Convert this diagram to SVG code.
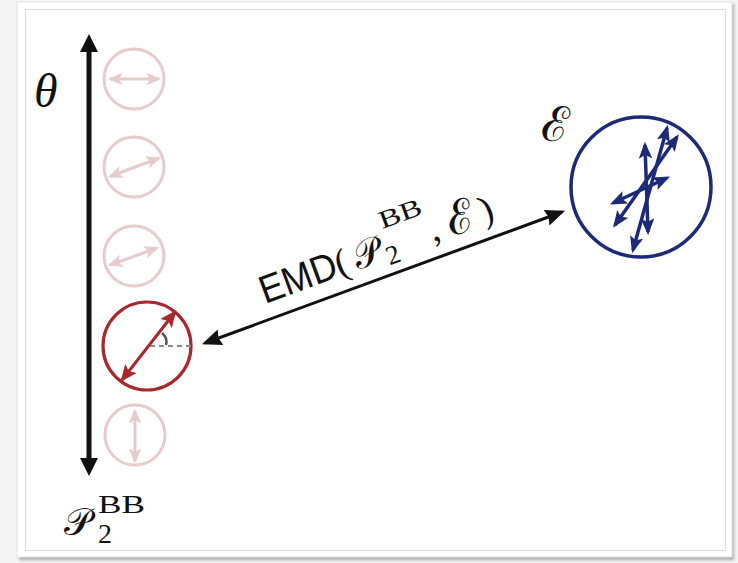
<svg xmlns="http://www.w3.org/2000/svg" width="738" height="563" viewBox="0 0 738 563">
  <defs>
    <filter id="shadow" x="-5%" y="-5%" width="110%" height="110%">
      <feGaussianBlur stdDeviation="1.5"/>
    </filter>
    <marker id="hBlack" markerUnits="userSpaceOnUse" markerWidth="22" markerHeight="20" refX="15" refY="8" orient="auto-start-reverse" viewBox="0 0 20 16">
      <path d="M0,0.5 L18,8 L0,15.5 L2,8 Z" fill="#111"/>
    </marker>
    <marker id="hRed" markerUnits="userSpaceOnUse" markerWidth="18" markerHeight="16" refX="13" refY="7" orient="auto-start-reverse" viewBox="0 0 16 14">
      <path d="M0,0.5 L15,7 L0,13.5 L3,7 Z" fill="#a8282c"/>
    </marker>
    <marker id="hFade" markerUnits="userSpaceOnUse" markerWidth="16" markerHeight="14" refX="11" refY="6" orient="auto-start-reverse" viewBox="0 0 14 12">
      <path d="M0,0.5 L13,6 L0,11.5 L3,6 Z" fill="#e6cccc"/>
    </marker>
    <marker id="hBlue" markerUnits="userSpaceOnUse" markerWidth="18" markerHeight="16" refX="12" refY="6.5" orient="auto-start-reverse" viewBox="0 0 16 13">
      <path d="M0,0.5 L15,6.5 L0,12.5 L3,6.5 Z" fill="#1c2a78"/>
    </marker>
  </defs>
  <style>
    .fade { fill: none; stroke: #e6cccc; stroke-width: 3; }
    .fadeA { stroke: #e6cccc; stroke-width: 3; marker-start: url(#hFade); marker-end: url(#hFade); }
    .blueA { stroke: #1c2a78; stroke-width: 3.5; marker-start: url(#hBlue); marker-end: url(#hBlue); }
    .math { font-family: "DejaVu Serif", "Liberation Serif", serif; fill: #111; }
    .rm { font-family: "Liberation Serif", "DejaVu Serif", serif; fill: #111; }
  </style>

  <!-- frame -->
  <rect x="0" y="0" width="738" height="563" fill="#f4f4f4"/>
  <rect x="19" y="4" width="715" height="556" fill="#a9a9a9" filter="url(#shadow)"/>
  <rect x="17" y="2" width="715" height="555" fill="#ffffff" stroke="#e4e4e4" stroke-width="1"/>
  <rect x="25.5" y="9.5" width="700" height="541" fill="none" stroke="#dddddd" stroke-width="1.2"/>

  <!-- theta axis -->
  <g id="axis">
    <line x1="89" y1="48" x2="89" y2="462" stroke="#111" stroke-width="5"/>
    <path d="M80,52 L89,34 L98,52 Z" fill="#111"/>
    <path d="M80,458 L89,476 L98,458 Z" fill="#111"/>
    <text x="34" y="107" class="rm" font-size="48" font-style="italic">θ</text>
  </g>

  <!-- faded polarization states -->
  <g id="state1">
    <circle cx="134" cy="79" r="30" class="fade"/>
    <line x1="110" y1="79" x2="159" y2="79" class="fadeA"/>
  </g>
  <g id="state2">
    <circle cx="134" cy="167" r="30" class="fade"/>
    <line x1="110" y1="176.5" x2="159" y2="158" class="fadeA"/>
  </g>
  <g id="state3">
    <circle cx="134" cy="256" r="30" class="fade"/>
    <line x1="110" y1="265" x2="157" y2="248" class="fadeA"/>
  </g>
  <g id="state5">
    <circle cx="135" cy="435" r="30" class="fade"/>
    <line x1="135" y1="411" x2="135" y2="461" class="fadeA"/>
  </g>

  <!-- selected state -->
  <g id="selected">
    <circle cx="147" cy="346" r="44" fill="none" stroke="#a8282c" stroke-width="3.2"/>
    <line x1="150" y1="346" x2="193" y2="346" stroke="#8a8a8a" stroke-width="2" stroke-dasharray="5,4"/>
    <path d="M162,333 Q168,338 166,345" fill="none" stroke="#555" stroke-width="2.5"/>
    <line x1="122" y1="380" x2="175" y2="312" stroke="#a8282c" stroke-width="3" marker-start="url(#hRed)" marker-end="url(#hRed)"/>
  </g>

  <!-- bottom label -->
  <g id="label-p">
    <text x="64" y="535" class="math" font-size="38">𝒫</text>
    <text x="98" y="513" class="rm" font-size="25" textLength="47" lengthAdjust="spacingAndGlyphs">BB</text>
    <text x="98" y="543" class="rm" font-size="28">2</text>
  </g>

  <!-- target ensemble -->
  <g id="ensemble">
    <circle cx="641" cy="187" r="70" fill="none" stroke="#1c2a78" stroke-width="3.5"/>
    <line x1="645" y1="145" x2="648" y2="232" class="blueA"/>
    <line x1="667" y1="128" x2="633" y2="250" class="blueA"/>
    <line x1="677" y1="137" x2="615" y2="225" class="blueA"/>
    <line x1="667" y1="178" x2="613" y2="203" class="blueA"/>
    <text x="541" y="141" class="math" font-size="48">ℰ</text>
  </g>

  <!-- connector -->
  <g id="connectors">
    <line x1="205" y1="343" x2="562" y2="212" stroke="#111" stroke-width="3" marker-start="url(#hBlack)" marker-end="url(#hBlack)"/>
    <g transform="translate(265,304) rotate(-20.2)">
      <text x="0" y="0" font-family="Liberation Sans, Arial, sans-serif" font-size="39" fill="#111" textLength="80" lengthAdjust="spacingAndGlyphs">EMD</text>
      <text x="86" y="0" class="rm" font-size="38" text-anchor="middle">(</text>
      <text x="113" y="0" class="math" font-size="38" text-anchor="middle">𝒫</text>
      <text x="158" y="-30" class="rm" font-size="25" text-anchor="middle" textLength="44" lengthAdjust="spacingAndGlyphs">BB</text>
      <text x="137" y="7" class="rm" font-size="27" text-anchor="middle">2</text>
      <text x="184" y="0" class="rm" font-size="38" text-anchor="middle">,</text>
      <text x="213" y="2" class="math" font-size="46" text-anchor="middle">ℰ</text>
      <text x="240" y="0" class="rm" font-size="38" text-anchor="middle">)</text>
    </g>
  </g>
</svg>
